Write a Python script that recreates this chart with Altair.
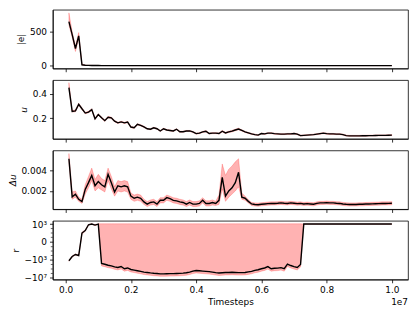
import altair as alt
import pandas as pd

# Timesteps (one evaluation every 1e5 steps)
steps = [100000 * i for i in range(1, 101)]

# |e|
e_mean = [650, 460, 255, 440, 15, 8, 6, 5, 4, 4,
          3, 3, 3, 3, 3, 3, 3, 2, 2, 2,
          2, 2, 2, 2, 2, 2, 2, 2, 2, 2,
          2, 2, 2, 2, 2, 2, 2, 2, 2, 2,
          2, 2, 2, 2, 2, 2, 3, 3, 2, 2,
          2, 2, 2, 2, 2, 2, 2, 2, 2, 2,
          2, 2, 2, 2, 2, 2, 2, 2, 2, 2,
          2, 2, 2, 2, 2, 2, 2, 2, 2, 2,
          2, 2, 2, 2, 2, 2, 2, 2, 2, 2,
          2, 2, 2, 2, 2, 2, 2, 2, 2, 2]
e_lo = [600, 420, 210, 400, 10, 5, 4, 3, 3, 3,
        2, 2, 2, 2, 2, 2, 2, 1, 1, 1,
        1, 1, 1, 1, 1, 1, 1, 1, 1, 1,
        1, 1, 1, 1, 1, 1, 1, 1, 1, 1,
        1, 1, 1, 1, 1, 1, 2, 2, 1, 1,
        1, 1, 1, 1, 1, 1, 1, 1, 1, 1,
        1, 1, 1, 1, 1, 1, 1, 1, 1, 1,
        1, 1, 1, 1, 1, 1, 1, 1, 1, 1,
        1, 1, 1, 1, 1, 1, 1, 1, 1, 1,
        1, 1, 1, 1, 1, 1, 1, 1, 1, 1]
e_hi = [780, 500, 290, 490, 22, 11, 8, 7, 6, 6,
        5, 5, 5, 5, 5, 5, 5, 4, 4, 4,
        4, 4, 4, 4, 4, 4, 4, 4, 4, 4,
        4, 4, 4, 4, 4, 4, 4, 4, 4, 4,
        4, 4, 4, 4, 4, 4, 5, 5, 4, 4,
        4, 4, 4, 4, 4, 4, 4, 4, 4, 4,
        4, 4, 4, 4, 4, 4, 4, 4, 4, 4,
        4, 4, 4, 4, 4, 4, 4, 4, 4, 4,
        4, 4, 4, 4, 4, 4, 4, 4, 4, 4,
        4, 4, 4, 4, 4, 4, 4, 4, 4, 4]

# u
u_mean = [0.45, 0.256, 0.26, 0.314, 0.277, 0.242, 0.25, 0.27, 0.195, 0.23,
          0.203, 0.18, 0.208, 0.203, 0.176, 0.162, 0.17, 0.162, 0.168, 0.128,
          0.122, 0.15, 0.142, 0.13, 0.114, 0.11, 0.122, 0.114, 0.096, 0.114,
          0.104, 0.1, 0.096, 0.11, 0.09, 0.09, 0.096, 0.096, 0.088, 0.074,
          0.078, 0.088, 0.094, 0.075, 0.078, 0.078, 0.075, 0.094, 0.08, 0.088,
          0.094, 0.104, 0.112, 0.1, 0.088, 0.08, 0.072, 0.066, 0.062, 0.075,
          0.072, 0.078, 0.078, 0.074, 0.072, 0.07, 0.07, 0.072, 0.072, 0.075,
          0.07, 0.058, 0.06, 0.062, 0.064, 0.066, 0.07, 0.074, 0.078, 0.074,
          0.072, 0.072, 0.07, 0.07, 0.066, 0.058, 0.056, 0.056, 0.056, 0.056,
          0.057, 0.057, 0.058, 0.058, 0.059, 0.06, 0.06, 0.06, 0.061, 0.062]
u_lo = [0.44, 0.25, 0.252, 0.305, 0.27, 0.236, 0.244, 0.263, 0.189, 0.224,
        0.197, 0.174, 0.202, 0.197, 0.17, 0.157, 0.165, 0.157, 0.163, 0.123,
        0.117, 0.145, 0.137, 0.125, 0.11, 0.106, 0.118, 0.11, 0.092, 0.11,
        0.1, 0.096, 0.092, 0.106, 0.086, 0.086, 0.092, 0.092, 0.084, 0.07,
        0.074, 0.084, 0.088, 0.071, 0.074, 0.074, 0.071, 0.088, 0.075, 0.083,
        0.088, 0.098, 0.106, 0.095, 0.084, 0.076, 0.068, 0.062, 0.058, 0.071,
        0.068, 0.074, 0.074, 0.07, 0.068, 0.066, 0.066, 0.068, 0.068, 0.071,
        0.066, 0.054, 0.056, 0.058, 0.06, 0.062, 0.066, 0.07, 0.074, 0.07,
        0.068, 0.068, 0.066, 0.066, 0.062, 0.054, 0.052, 0.052, 0.052, 0.052,
        0.053, 0.053, 0.054, 0.054, 0.055, 0.056, 0.056, 0.056, 0.057, 0.058]
u_hi = [0.49, 0.262, 0.268, 0.322, 0.284, 0.248, 0.256, 0.277, 0.201, 0.236,
        0.209, 0.186, 0.214, 0.209, 0.182, 0.167, 0.175, 0.167, 0.173, 0.133,
        0.127, 0.155, 0.147, 0.135, 0.118, 0.114, 0.126, 0.118, 0.1, 0.118,
        0.108, 0.104, 0.1, 0.114, 0.094, 0.094, 0.1, 0.1, 0.092, 0.078,
        0.082, 0.092, 0.1, 0.079, 0.082, 0.082, 0.079, 0.1, 0.085, 0.094,
        0.1, 0.11, 0.119, 0.105, 0.092, 0.084, 0.076, 0.07, 0.066, 0.079,
        0.076, 0.082, 0.082, 0.078, 0.076, 0.074, 0.074, 0.076, 0.076, 0.079,
        0.074, 0.062, 0.064, 0.066, 0.068, 0.07, 0.074, 0.078, 0.082, 0.078,
        0.076, 0.076, 0.074, 0.074, 0.07, 0.062, 0.06, 0.06, 0.06, 0.06,
        0.061, 0.061, 0.062, 0.062, 0.063, 0.064, 0.064, 0.064, 0.065, 0.066]

# Delta u
du_mean = [0.0051, 0.00143, 0.00168, 0.0012, 0.00098, 0.00215, 0.0028, 0.0035, 0.0025, 0.0029,
           0.0026, 0.0024, 0.0036, 0.0028, 0.0019, 0.0025, 0.0024, 0.0025, 0.0024, 0.0015,
           0.0013, 0.0014, 0.0013, 0.00095, 0.00073, 0.00089, 0.00095, 0.00073, 0.0011, 0.0011,
           0.00136, 0.00127, 0.0011, 0.00105, 0.00095, 0.00089, 0.00073, 0.00089, 0.00073, 0.00073,
           0.0008, 0.0011, 0.0008, 0.0008, 0.00089, 0.0008, 0.0011, 0.0033, 0.0015, 0.002,
           0.0023, 0.0028, 0.0038, 0.0014, 0.0013, 0.001, 0.00075, 0.0007, 0.00068, 0.00072,
           0.00075, 0.00078, 0.0008, 0.0008, 0.00082, 0.00085, 0.00082, 0.0008, 0.00085, 0.00082,
           0.00078, 0.0008, 0.00075, 0.00078, 0.00075, 0.00072, 0.0008, 0.00085, 0.00085, 0.00088,
           0.00085, 0.00085, 0.00082, 0.0008, 0.00075, 0.00072, 0.0007, 0.0007, 0.0007, 0.00072,
           0.00072, 0.00074, 0.00075, 0.00076, 0.00077, 0.00078, 0.0008, 0.0008, 0.00081, 0.00082]
du_lo = [0.0047, 0.0012, 0.0014, 0.001, 0.0008, 0.0017, 0.0023, 0.003, 0.002, 0.0023,
         0.0021, 0.0019, 0.003, 0.0022, 0.0015, 0.002, 0.0019, 0.002, 0.0019, 0.0012,
         0.001, 0.0011, 0.001, 0.0007, 0.0005, 0.00064, 0.0007, 0.0005, 0.00085, 0.00085,
         0.0011, 0.001, 0.00085, 0.0008, 0.0007, 0.00064, 0.0005, 0.00064, 0.0005, 0.0005,
         0.00055, 0.00085, 0.00055, 0.00055, 0.00064, 0.0006, 0.0007, 0.0022, 0.001, 0.0014,
         0.0017, 0.002, 0.0024, 0.0012, 0.0011, 0.00085, 0.0006, 0.00055, 0.00053, 0.00057,
         0.0006, 0.00063, 0.00065, 0.00065, 0.00067, 0.0007, 0.00067, 0.00065, 0.0007, 0.00067,
         0.00063, 0.00065, 0.0006, 0.00063, 0.0006, 0.00057, 0.00065, 0.0007, 0.0007, 0.00073,
         0.0007, 0.0007, 0.00067, 0.00065, 0.0006, 0.00057, 0.00055, 0.00055, 0.00055, 0.00057,
         0.00057, 0.00059, 0.0006, 0.00061, 0.00062, 0.00063, 0.00065, 0.00065, 0.00066, 0.00067]
du_hi = [0.0056, 0.0019, 0.002, 0.0014, 0.0012, 0.0026, 0.0034, 0.0042, 0.0031, 0.0036,
         0.0032, 0.003, 0.0042, 0.0034, 0.0024, 0.003, 0.0029, 0.003, 0.0029, 0.0018,
         0.0016, 0.0017, 0.0016, 0.0012, 0.00098, 0.00114, 0.0012, 0.00098, 0.00135, 0.00135,
         0.0016, 0.0015, 0.00135, 0.0013, 0.0012, 0.00114, 0.00098, 0.00114, 0.00098, 0.00098,
         0.00105, 0.00135, 0.00105, 0.00105, 0.00114, 0.001, 0.0016, 0.0046, 0.0035, 0.0041,
         0.0044, 0.0048, 0.0051, 0.0018, 0.0015, 0.00115, 0.0009, 0.00085, 0.00083, 0.00087,
         0.0009, 0.00093, 0.00095, 0.00095, 0.00097, 0.001, 0.00097, 0.00095, 0.001, 0.00097,
         0.00093, 0.00095, 0.0009, 0.00093, 0.0009, 0.00087, 0.00095, 0.001, 0.001, 0.00103,
         0.001, 0.001, 0.00097, 0.00095, 0.0009, 0.00087, 0.00085, 0.00085, 0.00085, 0.00087,
         0.00087, 0.00089, 0.0009, 0.00091, 0.00092, 0.00093, 0.00095, 0.00095, 0.00096, 0.00097]

# r (symlog axis)
r_mean = [-1500, -170, -60, -100, 10, 35, 700, 1000, 600, 1000,
          -6000, -9000, -15000, -20000, -35000, -45000, -28000, -90000, -60000, -130000,
          -180000, -250000, -350000, -500000, -600000, -750000, -900000, -1000000, -1200000, -1200000,
          -1150000, -1100000, -1100000, -1000000, -950000, -850000, -700000, -500000, -300000, -220000,
          -250000, -300000, -350000, -400000, -500000, -650000, -800000, -700000, -600000, -600000,
          -550000, -600000, -650000, -650000, -600000, -450000, -350000, -200000, -150000, -90000,
          -60000, -30000, -90000, -70000, -65000, -50000, -90000, -8000, -17000, -30000,
          -45000, -10000, 1000, 1000, 1000, 1000, 1000, 1000, 1000, 1000,
          1000, 1000, 1000, 1000, 1000, 1000, 1000, 1000, 1000, 1000,
          1000, 1000, 1000, 1000, 1000, 1000, 1000, 1000, 1000, 1000]
r_lo = [-1900, -220, -80, -130, 5, 25, 550, 900, 450, 900,
        -21000, -31000, -52000, -70000, -120000, -160000, -98000, -310000, -210000, -450000,
        -630000, -880000, -1200000, -1750000, -2100000, -2600000, -3150000, -3500000, -4200000, -4200000,
        -4000000, -3850000, -3850000, -3500000, -3300000, -3000000, -2450000, -1750000, -1050000, -770000,
        -880000, -1050000, -1200000, -1400000, -1750000, -2300000, -2800000, -2450000, -2100000, -2100000,
        -1900000, -2100000, -2300000, -2300000, -2100000, -1600000, -1200000, -700000, -520000, -310000,
        -210000, -105000, -310000, -245000, -230000, -175000, -310000, -28000, -60000, -105000,
        -160000, -35000, 950, 950, 950, 950, 950, 950, 950, 950,
        950, 950, 950, 950, 950, 950, 950, 950, 950, 950,
        950, 950, 950, 950, 950, 950, 950, 950, 950, 950]
r_hi = [-1200, -130, -45, -75, 15, 50, 850, 1100, 750, 1100,
        1150, 1150, 1150, 1150, 1150, 1150, 1150, 1150, 1150, 1150,
        1150, 1150, 1150, 1150, 1150, 1150, 1150, 1150, 1150, 1150,
        1150, 1150, 1150, 1150, 1150, 1150, 1150, 1150, 1150, 1150,
        1150, 1150, 1150, 1150, 1150, 1150, 1150, 1150, 1150, 1150,
        1150, 1150, 1150, 1150, 1150, 1150, 1150, 1150, 1150, 1150,
        1150, 1150, 1150, 1150, 1150, 1150, 1150, 1150, 1150, 1150,
        1150, 1150, 1050, 1050, 1050, 1050, 1050, 1050, 1050, 1050,
        1050, 1050, 1050, 1050, 1050, 1050, 1050, 1050, 1050, 1050,
        1050, 1050, 1050, 1050, 1050, 1050, 1050, 1050, 1050, 1050]

x_ticks = [0, 2000000, 4000000, 6000000, 8000000, 10000000]
r_ticks = [-10000000, -1000, 0, 1000]
r_minor = [100, 10, 1, -1, -10, -100, -10000, -100000, -1000000]

df = pd.DataFrame({
    "t": steps,
    "e": e_mean, "e_lo": e_lo, "e_hi": e_hi,
    "u": u_mean, "u_lo": u_lo, "u_hi": u_hi,
    "du": du_mean, "du_lo": du_lo, "du_hi": du_hi,
    "r": r_mean, "r_lo": r_lo, "r_hi": r_hi,
})

W, H = 357, 59
FONT = "DejaVu Sans"
x_scale = alt.Scale(domain=[-395000, 10495000], nice=False, zero=False)


def x_enc(bottom=False):
    if bottom:
        ax = alt.Axis(values=x_ticks, labelExpr="format(datum.value / 1e7, '.1f')",
                      title="Timesteps", titlePadding=3)
    else:
        ax = alt.Axis(values=x_ticks, labels=False, title=None)
    return alt.X("t:Q", scale=x_scale, axis=ax)


def panel(key, title, domain, ticks, fmt, italic=False, bottom=False):
    ysc = alt.Scale(domain=domain, nice=False, zero=False)
    yax = alt.Axis(values=ticks, format=fmt, title=title,
                   titleFontStyle="italic" if italic else "normal")
    base = alt.Chart(df)
    band = base.mark_area(fill="red", fillOpacity=0.3, stroke="red", strokeOpacity=0.3,
                          strokeWidth=0.7).encode(
        x=x_enc(bottom),
        y=alt.Y(f"{key}_lo:Q", scale=ysc, axis=yax),
        y2=alt.Y2(f"{key}_hi:Q"),
    )
    line = base.mark_line(color="black", strokeWidth=1.4).encode(
        x=x_enc(bottom),
        y=alt.Y(f"{key}:Q", scale=ysc, axis=yax),
    )
    return alt.layer(band, line).properties(width=W, height=H)


p1 = panel("e", "|e|", [-39, 826], [0, 500], "d")
p2 = panel("u", "u", [0.032, 0.511], [0.2, 0.4], ".1f", italic=True)
p3 = panel("du", "Δu", [0.00025, 0.0059], [0.002, 0.004], ".3f", italic=True)

# r panel with symlog scale
r_scale = alt.Scale(type="symlog", constant=0.1, domain=[-22000000, 5300], nice=False, zero=False)
r_axis = alt.Axis(values=r_ticks, title="r",
                  labelExpr="datum.value == 1000 ? '10³' : datum.value == 0 ? '0' : "
                            "datum.value == -1000 ? '−10³' : '−10⁷'")
rb = alt.Chart(df)
r_band = rb.mark_area(fill="red", fillOpacity=0.3, stroke="red", strokeOpacity=0.3,
                      strokeWidth=0.7).encode(
    x=x_enc(True),
    y=alt.Y("r_lo:Q", scale=r_scale, axis=r_axis),
    y2=alt.Y2("r_hi:Q"),
)
r_line = rb.mark_line(color="black", strokeWidth=1.4).encode(
    x=x_enc(True),
    y=alt.Y("r:Q", scale=r_scale, axis=r_axis),
)
minor = alt.Chart(pd.DataFrame({"r": r_minor})).mark_rule(color="black", strokeWidth=0.6).encode(
    y=alt.Y("r:Q", scale=r_scale, axis=r_axis),
    x=alt.value(-2),
    x2=alt.value(0),
)
offset_txt = alt.Chart(pd.DataFrame({"s": ["1e7"]})).mark_text(
    align="right", baseline="middle", font=FONT, fontSize=9, color="black"
).encode(text="s:N", x=alt.value(W), y=alt.value(H + 23))
p4 = alt.layer(r_band, r_line, minor, offset_txt).properties(width=W, height=H)

chart = alt.vconcat(p1, p2, p3, p4, spacing=11.7, bounds="flush").properties(
    padding={"left": 0, "top": 0, "right": 2, "bottom": 0}
).configure_view(
    stroke="black", strokeWidth=0.8
).configure_axis(
    grid=False, labelFont=FONT, titleFont=FONT, labelFontSize=9, titleFontSize=9,
    titleFontWeight="normal", labelColor="black", titleColor="black",
    tickColor="black", domainColor="black", tickSize=3.3, tickWidth=0.8,
    domainWidth=0.8, labelPadding=3, titlePadding=3.5
)

chart.save("out.html", embed_options={"renderer": "svg", "actions": False})
